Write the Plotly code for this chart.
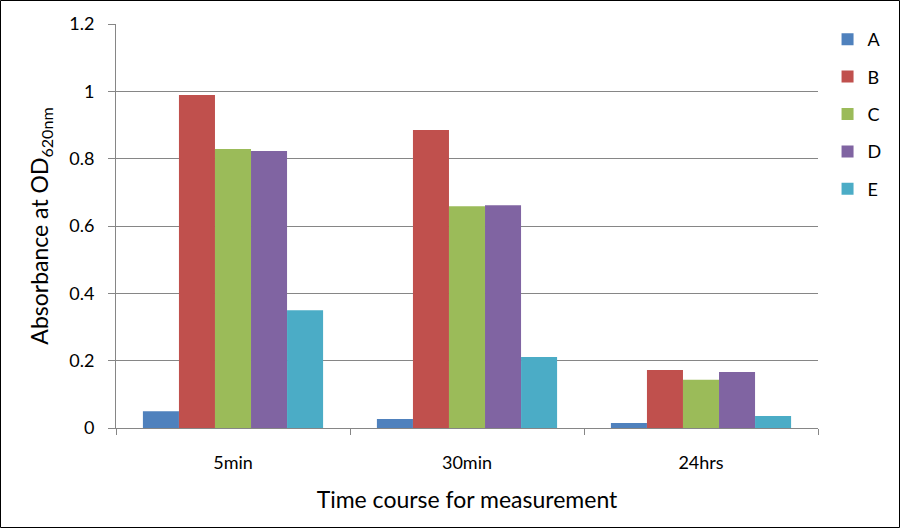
import plotly.graph_objects as go

categories = ["5min", "30min", "24hrs"]
series_names = ["A", "B", "C", "D", "E"]
A = [0.050, 0.027, 0.015]
B = [0.989, 0.885, 0.172]
C = [0.829, 0.659, 0.143]
D = [0.823, 0.662, 0.166]
E = [0.350, 0.211, 0.036]
values = [A, B, C, D, E]
colors = ["#4F81BD", "#C0504D", "#9BBB59", "#8064A2", "#4BACC6"]
y_ticks = [0, 0.2, 0.4, 0.6, 0.8, 1, 1.2]
y_tick_labels = ["0", "0.2", "0.4", "0.6", "0.8", "1", "1.2"]

W, H = 900, 528
L, R, T, B_ = 116, 82, 24, 100
pw, ph = W - L - R, H - T - B_

fig = go.Figure()
for i, (name, vals) in enumerate(zip(series_names, values)):
    fig.add_trace(go.Bar(x=categories, y=vals, name=name, marker_color=colors[i],
                         marker_line_width=0, legendgroup=name))

font = "Lato, Calibri, Carlito, sans-serif"
fig.update_layout(
    width=W, height=H,
    margin=dict(l=L, r=R, t=T, b=B_),
    paper_bgcolor="white", plot_bgcolor="white",
    barmode="group", bargap=0.23, bargroupgap=0,
    font=dict(family=font, size=18, color="black"),
    legend=dict(x=1.0136, y=1.0 + 3.0 / ph, xanchor="left", yanchor="top",
                font=dict(size=18), tracegroupgap=11, itemwidth=30,
                bgcolor="rgba(0,0,0,0)"),
    showlegend=True,
)
fig.update_xaxes(
    type="category", showline=True, linecolor="#868686", linewidth=1,
    ticks="outside", tickson="boundaries", ticklen=6, tickcolor="#868686",
    showgrid=False, ticklabelstandoff=18,
    title=dict(text="Time course for measurement", font=dict(size=23), standoff=20),
    tickfont=dict(size=18),
)
fig.update_yaxes(
    range=[0, 1.2], tickvals=y_ticks, ticktext=y_tick_labels,
    showline=True, linecolor="#868686", linewidth=1,
    ticks="outside", ticklen=7, tickcolor="#868686", ticklabelstandoff=10,
    showgrid=True, gridcolor="#868686", gridwidth=1, zeroline=False,
    title=dict(text="Absorbance at OD<sub>620nm</sub>", font=dict(size=23), standoff=14),
    tickfont=dict(size=18),
)
fig.add_shape(type="rect", xref="paper", yref="paper",
              x0=(-L + 0.5) / pw, x1=1 + (R - 0.5) / pw,
              y0=(-B_ + 0.5) / ph, y1=1 + (T - 0.5) / ph,
              line=dict(color="black", width=1), layer="above")
fig.write_html("out.html", config={"displayModeBar": False},
               post_script="document.body.style.margin='0';document.body.style.padding='0';")
